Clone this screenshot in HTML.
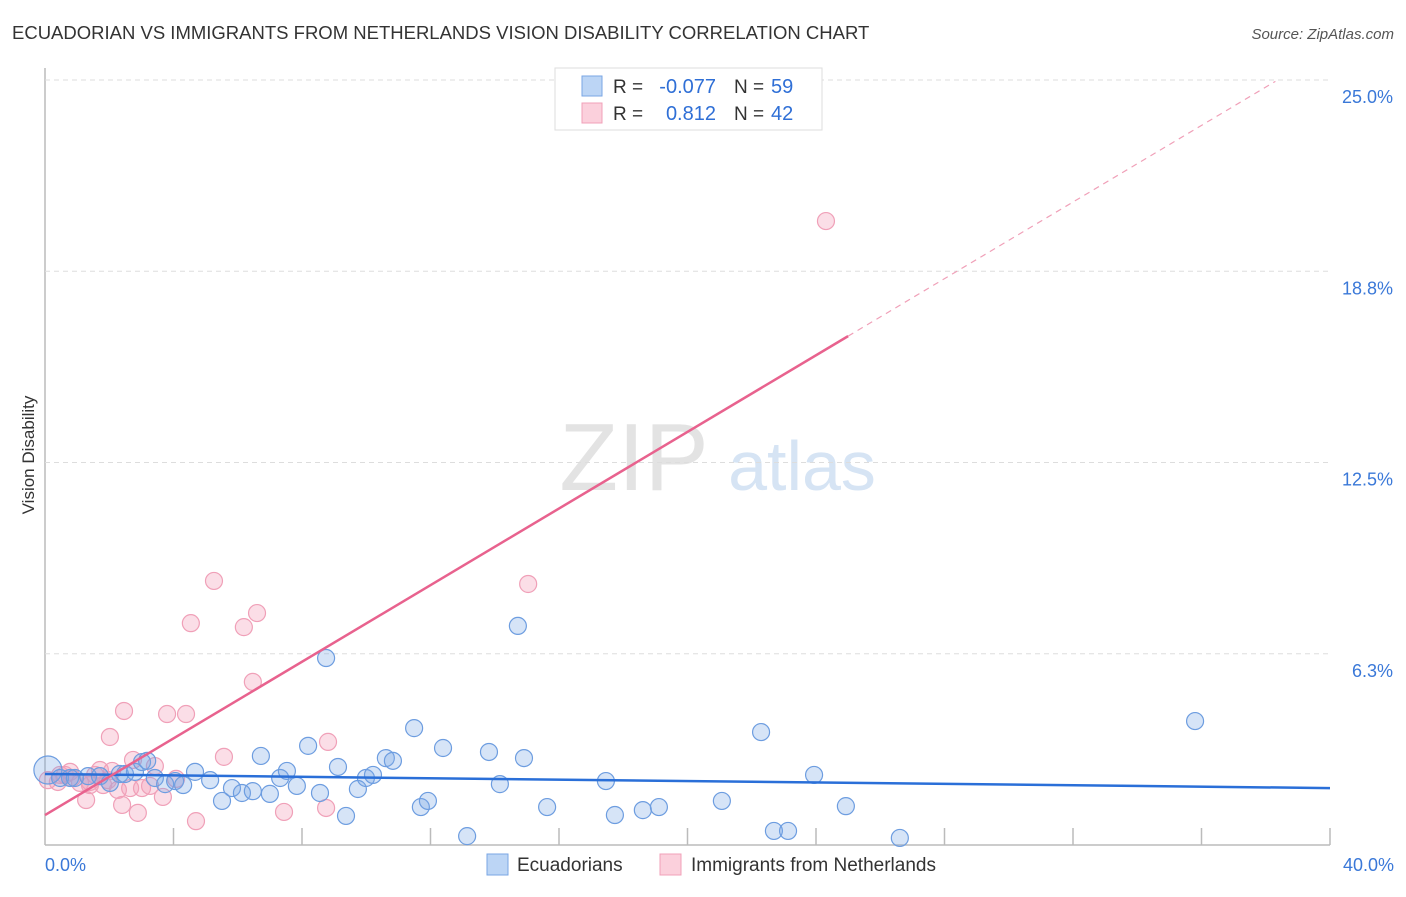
<!DOCTYPE html>
<html><head><meta charset="utf-8"><style>
body{margin:0;background:#fff;font-family:"Liberation Sans",sans-serif;}
svg text{font-family:"Liberation Sans",sans-serif;}
</style></head><body>
<svg id="chart" width="1406" height="892">
<text x="12" y="39" font-size="18.5" fill="#333">ECUADORIAN VS IMMIGRANTS FROM NETHERLANDS VISION DISABILITY CORRELATION CHART</text>
<text x="1394" y="39" font-size="15" fill="#555" text-anchor="end" font-style="italic">Source: ZipAtlas.com</text>
<text x="34" y="455" font-size="17" fill="#333" text-anchor="middle" transform="rotate(-90 34 455)">Vision Disability</text>
<g><text x="634" y="490" font-size="96" fill="#e3e3e3" font-family="Liberation Serif" text-anchor="middle">ZIP</text><text x="802" y="490" font-size="70" fill="#d6e4f4" text-anchor="middle">atlas</text></g>
<g id="grid"></g><g id="pts"></g><g id="lines"></g>
<g>
<rect x="555" y="68" width="267" height="62" fill="#fff" stroke="#ddd"/>
<rect x="582" y="76" width="20" height="20" fill="#bcd5f5" stroke="#7aa6e4"/>
<rect x="582" y="103" width="20" height="20" fill="#fbd0dc" stroke="#f0a0b8"/>
<text x="613" y="93" font-size="19" fill="#333">R =</text>
<text x="716" y="93" font-size="20" fill="#2f6fd6" text-anchor="end">-0.077</text>
<text x="734" y="93" font-size="19" fill="#333">N =</text>
<text x="771" y="93" font-size="20" fill="#2f6fd6">59</text>
<text x="613" y="120" font-size="19" fill="#333">R =</text>
<text x="716" y="120" font-size="20" fill="#2f6fd6" text-anchor="end">0.812</text>
<text x="734" y="120" font-size="19" fill="#333">N =</text>
<text x="771" y="120" font-size="20" fill="#2f6fd6">42</text>
</g>
<g>
<rect x="487" y="854" width="21" height="21" fill="#bcd5f5" stroke="#7aa6e4"/>
<text x="517" y="871" font-size="19" fill="#333">Ecuadorians</text>
<rect x="660" y="854" width="21" height="21" fill="#fbd0dc" stroke="#f0a0b8"/>
<text x="691" y="871" font-size="19" fill="#333">Immigrants from Netherlands</text>
</g>
</svg>
<script>
const yTicks=[6.3,12.5,18.8,25.0];
const yTickVals=[6.25,12.5,18.75,25];
const xTickLabels=["0.0%","40.0%"];
const blueX=[0.09,0.47,0.78,0.93,1.34,1.71,2.02,2.33,2.49,2.80,3.02,3.18,3.42,3.74,4.05,4.30,4.67,5.14,5.51,5.82,6.13,6.47,6.72,7.00,7.32,7.53,7.84,8.19,8.56,8.75,9.12,9.37,9.74,9.99,10.21,10.61,10.83,11.49,11.70,11.92,12.39,13.14,13.82,14.16,14.72,14.91,15.63,17.46,17.74,18.61,19.11,21.07,22.29,22.69,23.13,23.94,24.93,26.61,35.80];
const blueY=[2.45,2.19,2.19,2.19,2.25,2.25,2.03,2.32,2.32,2.39,2.71,2.75,2.19,1.99,2.09,1.96,2.39,2.12,1.44,1.86,1.70,1.76,2.91,1.67,2.19,2.42,1.93,3.24,1.70,6.11,2.55,0.95,1.83,2.19,2.29,2.84,2.75,3.82,1.24,1.44,3.17,0.29,3.04,1.99,7.16,2.84,1.24,2.09,0.98,1.14,1.24,1.44,3.69,0.46,0.46,2.29,1.27,0.23,4.05];
const pinkX=[0.09,0.40,0.47,0.62,0.78,0.84,1.09,1.28,1.40,1.40,1.56,1.71,1.81,1.96,2.09,2.27,2.02,2.46,2.40,2.65,2.74,2.89,3.02,3.27,3.42,3.67,3.80,4.08,4.39,4.54,4.70,5.26,5.57,6.19,6.47,6.60,7.44,8.75,8.81,15.04,24.31];
const pinkY=[2.12,2.06,2.29,2.29,2.39,2.19,2.03,1.47,1.96,2.06,2.29,2.45,1.96,2.12,2.42,1.80,3.53,4.38,1.31,1.86,2.78,1.05,1.86,1.93,2.58,1.57,4.28,2.16,4.28,7.25,0.78,8.63,2.88,7.12,5.33,7.58,1.08,1.21,3.37,8.53,20.39];
const blueTrend=[2.32,1.86];
const pinkTrend=[0.98,0.626];
const NS="http://www.w3.org/2000/svg";
const X=v=>45+v*32.125, Y=v=>845-v*30.6;
function mk(t,a,p){const e=document.createElementNS(NS,t);for(const k in a)e.setAttribute(k,a[k]);p.appendChild(e);return e;}
const grid=document.getElementById('grid');
mk('line',{x1:45,y1:845,x2:1330,y2:845,stroke:'#bbb','stroke-width':1.5},grid);
mk('line',{x1:45,y1:68,x2:45,y2:845,stroke:'#bbb','stroke-width':1.5},grid);
yTickVals.forEach((v,i)=>{
 const l=mk('line',{x1:45,y1:Y(v),x2:1330,y2:Y(v),stroke:'#ddd','stroke-dasharray':'5,4'},grid);
 
 
 const t=mk('text',{x:1393,y:Y(v)+23,'font-size':18,fill:'#3a78d8','text-anchor':'end'},grid);
 t.textContent=yTicks[i].toFixed(1)+'%';
 
 
});
for(let i=1;i<=10;i++){const l=mk('line',{x1:X(i*4),y1:828,x2:X(i*4),y2:845,stroke:'#bbb','stroke-width':1.5},grid);
 
 }
[[0,'start',45],[40,'end',1394]].forEach((d,i)=>{const t=mk('text',{x:d[2],y:871,'font-size':18,fill:'#3a78d8','text-anchor':d[1]},grid);t.textContent=xTickLabels[i];
 
 });
const pts=document.getElementById('pts');
pinkX.forEach((x,i)=>{const c=mk('circle',{cx:X(x),cy:Y(pinkY[i]),r:8.5,fill:'rgba(244,160,185,0.35)',stroke:'#f0a0b8','stroke-width':1.2},pts);
 
 });
blueX.forEach((x,i)=>{const c=mk('circle',{cx:X(x),cy:Y(blueY[i]),r:i==0?14:8.5,fill:'rgba(120,165,230,0.3)',stroke:'#6d9de0','stroke-width':1.2},pts);
 
 });
const lines=document.getElementById('lines');
const b=mk('line',{x1:X(0),y1:Y(blueTrend[0]),x2:X(40),y2:Y(blueTrend[1]),stroke:'#2a6fd8','stroke-width':2.5},lines);


const p=mk('line',{x1:X(0),y1:Y(pinkTrend[0]),x2:X(25),y2:Y(pinkTrend[0]+pinkTrend[1]*25),stroke:'#e8628e','stroke-width':2.5},lines);


const pd=mk('line',{x1:X(25),y1:Y(pinkTrend[0]+pinkTrend[1]*25),x2:X(38.3),y2:Y(pinkTrend[0]+pinkTrend[1]*38.3),stroke:'#f0a0b8','stroke-width':1.2,'stroke-dasharray':'6,5'},lines);


</script>
</body></html>
